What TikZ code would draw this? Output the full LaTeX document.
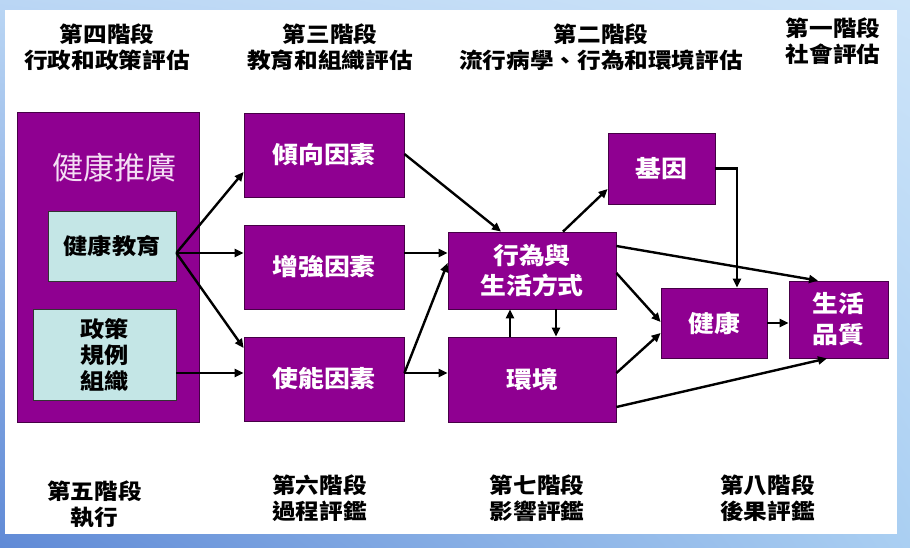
\documentclass[tikz,border=0pt]{standalone}
\usepackage{fontspec}
\setmainfont{Noto Sans CJK TC}[FakeStretch=1.1]
\newfontfamily\cjkplain{Noto Sans CJK TC}
\usetikzlibrary{arrows.meta,shadings}
\definecolor{pfill}{RGB}{143,0,145}
\definecolor{pline}{RGB}{70,0,70}
\definecolor{lfill}{RGB}{196,230,230}
\definecolor{promotext}{RGB}{244,222,244}
\definecolor{bgA}{RGB}{186,214,244}
\definecolor{bgB}{RGB}{205,228,249}
\definecolor{bgC}{RGB}{96,138,214}
\definecolor{bgD}{RGB}{170,207,242}
\begin{document}
\begin{tikzpicture}[x=1pt,y=-1pt,
  box/.style={draw=pline, line width=0.8pt, fill=pfill, text=white,
    font=\bfseries\fontsize{23.5}{30}\selectfont, align=center, inner sep=0pt},
  lbox/.style={draw=black!80, line width=0.8pt, fill=lfill, text=black,
    font=\bfseries\fontsize{22}{26}\selectfont, align=center, inner sep=0pt},
  hdr/.style={font=\bfseries\fontsize{21.5}{26}\selectfont, align=center, inner sep=0pt, text=black},
  arr/.style={line width=2.4pt, draw=black, -{Triangle[length=9pt,width=8pt]}}]
% background
\shade[upper left=bgA, upper right=bgB, lower left=bgC, lower right=bgD] (0,0) rectangle (910,548);
\fill[white] (5,10) rectangle (897,534);
\useasboundingbox (0,0) rectangle (910,548);

% headers
\node[hdr] (h4) at (107,47) {第四階段\\行政和政策評估};
\node[hdr] (h3) at (330,47) {第三階段\\教育和組織評估};
\node[hdr] (h2) at (601,47) {第二階段\\流行病學、行為和環境評估};
\node[hdr] (h1) at (833,41) {第一階段\\社會評估};
\node[hdr] (b5) at (94.5,504.5) {第五階段\\執行};
\node[hdr] (b6) at (319.5,498) {第六階段\\過程評鑑};
\node[hdr] (b7) at (537,498) {第七階段\\影響評鑑};
\node[hdr] (b8) at (767.5,498) {第八階段\\後果評鑑};

% boxes
\node[box, minimum width=182pt, minimum height=310pt] (promo) at (108,267) {};
\node[inner sep=0pt, text=promotext, font=\cjkplain\fontsize{31}{31}\selectfont] (promolabel) at (114,168) {健康推廣};
\node[lbox, minimum width=128pt, minimum height=70pt] (edu) at (112,246) {健康教育};
\node[lbox, minimum width=143pt, minimum height=91pt] (pol) at (104.5,354.5) {政策\\規例\\組織};

\node[box, minimum width=160pt, minimum height=84pt] (pred) at (324,155) {傾向因素};
\node[box, minimum width=160pt, minimum height=84pt] (reinf) at (324,267) {增強因素};
\node[box, minimum width=160pt, minimum height=84pt] (enab) at (324,379) {使能因素};

\node[box, minimum width=168pt, minimum height=77pt] (beh) at (532,270.5) {行為與\\生活方式};
\node[box, minimum width=168pt, minimum height=85pt] (env) at (532,379.5) {環境};
\node[box, minimum width=107pt, minimum height=71pt] (gene) at (661.5,168.5) {基因};
\node[box, minimum width=106pt, minimum height=70pt] (health) at (714,323) {健康};
\node[box, minimum width=99pt, minimum height=77pt, font=\bfseries\fontsize{23.5}{31}\selectfont] (qol) at (838.5,319.5) {生活\\品質};

% helper coordinates
\coordinate (eduout) at ([yshift=-7pt]edu.east);
\coordinate (polrow) at ([yshift=6pt]enab.west);
\coordinate (reinfout) at ([yshift=14pt]reinf.east);
\coordinate (enabout) at ([yshift=6pt]enab.east);
\coordinate (genein) at ([yshift=-20.5pt]gene.west);

% arrows
\draw[arr] (eduout) -- ([yshift=-17pt]pred.west);
\draw[arr] (eduout) -- (eduout -| reinf.west);
\draw[arr] (eduout) -- ([yshift=31pt]enab.west);
\draw[arr] (polrow -| pol.east) -- (polrow);

\draw[arr] ([yshift=1pt]pred.east) -- ([xshift=-31pt]beh.north);
\draw[arr] (reinfout) -- (reinfout -| beh.west);
\draw[arr] (enabout) -- ([yshift=7.5pt]beh.west);
\draw[arr] (enabout) -- (enabout -| env.west);

\draw[arr] ([xshift=31pt]beh.north) -- (genein);
\draw[arr] (gene.east) -| ([xshift=23pt]health.north);
\draw[arr] ([yshift=24.5pt]beh.east) -- ([xshift=-20.5pt]qol.north);
\draw[arr] ([yshift=-2.5pt]beh.east) -- ([yshift=1pt]health.west);
\draw[arr] ([yshift=6.5pt]env.east) -- ([yshift=-10pt]health.west);
\draw[arr] ([yshift=-27.5pt]env.east) -- ([xshift=-11.5pt]qol.south);
\draw[arr] (health.east) -- (health.east -| qol.west);
\draw[arr] ([xshift=-22pt]env.north) -- ([xshift=-22pt]beh.south);
\draw[arr] ([xshift=24pt]beh.south) -- ([xshift=24pt]env.north);
\end{tikzpicture}
\end{document}
